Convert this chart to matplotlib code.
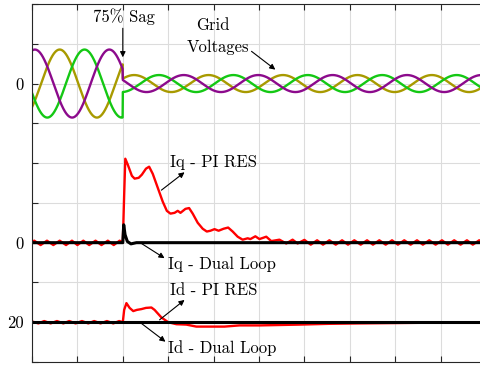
import numpy as np
import matplotlib.pyplot as plt

plt.rcParams['font.family'] = 'cmr10'
plt.rcParams['mathtext.fontset'] = 'cm'
plt.rcParams['axes.unicode_minus'] = False

# time axis in ms, sag at 20 ms
T_END = 100.0
T_SAG = 20.0

# grid voltages (pu) - amplitude before / after the 75% sag
F_GRID = 61.0      # Hz
V_PRE = 1.0
V_POST = 0.25
PHASE0 = -14.0     # deg
phase_shift = [0.0, -120.0, -240.0]
phase_colors = ['#8c0a8c', '#a89a00', '#14c814']

# Iq - PI RES (A)
t_iq_pi = [0, 0.5, 1.9, 3.3, 4.7, 6.1, 7.5, 8.8, 10.0, 11.3, 12.6, 14.0, 15.3, 16.7, 18.0, 19.3, 20.0,
           20.3, 20.55, 21.1, 22.0, 22.6, 23.5, 24.2, 25.1, 25.8, 26.6, 27.7, 28.8, 29.7, 30.5, 31.4,
           32.1, 32.7, 33.8, 34.6, 35.4, 36.5, 37.6, 38.5, 39.3, 40.2, 41.1, 42.2, 43.2, 44.2, 45.3,
           46.4, 47.5, 48.1, 49.2, 50.1, 51.6, 52.7, 54.5, 56.0, 57.4, 58.5,
           60.0, 61.4, 62.8, 64.1, 65.5, 66.9, 68.3, 69.6, 71.0, 72.4, 73.8, 75.1, 76.5, 77.9,
           79.3, 80.6, 82.0, 83.4, 84.8, 86.1, 87.5, 88.9, 90.3, 91.6, 93.0, 94.4, 95.8, 97.1,
           98.5, 99.9]
iq_pi = [0.2, 0.5, -0.6, 0.5, -0.6, 0.5, -0.6, 0.5, -0.6, 0.5, -0.6, 0.5, -0.6, 0.5, -0.6, 0.5, 0.0,
         12.0, 21.1, 19.6, 16.8, 16.1, 16.3, 17.1, 18.6, 19.1, 17.3, 13.8, 10.3, 8.0, 7.3, 7.5,
         8.0, 7.5, 8.5, 8.7, 7.3, 5.0, 3.5, 2.8, 3.0, 3.4, 3.0, 3.5, 3.8, 2.8, 1.5,
         0.75, 1.1, 0.9, 1.6, 0.9, 1.5, 0.4, 0.75, -0.2, 0.75, -0.2,
         0.7, -0.5, 0.6, -0.5, 0.6, -0.5, 0.6, -0.5, 0.6, -0.5, 0.6, -0.5, 0.6, -0.5,
         0.6, -0.5, 0.6, -0.5, 0.6, -0.5, 0.6, -0.5, 0.6, -0.5, 0.6, -0.5, 0.6, -0.5,
         0.6, -0.5]

# Iq - Dual Loop (A)
t_iq_dl = [0, 20.0, 20.2, 20.5, 21.0, 21.8, 23.0, 100]
iq_dl = [0, 0, 4.5, 2.0, 0.3, -0.3, 0, 0]

# Id - PI RES (A)
t_id_pi = [0, 1.4, 2.7, 4.1, 5.5, 6.9, 8.2, 9.6, 11.0, 12.4, 13.7, 15.1, 16.5, 17.9, 19.2, 20.0,
           20.3, 20.8, 21.5, 22.3, 23.1, 24.1, 25.1, 26.3, 27.0, 28.5, 30.0, 31.8, 34.0, 36.2,
           39.1, 42.4, 45.7, 50.1, 54.5, 58.9, 65.5, 72.1, 80.9, 89.7, 100]
id_pi = [20.2, 19.7, 20.3, 19.7, 20.3, 19.7, 20.3, 19.7, 20.3, 19.7, 20.3, 19.7, 20.3, 19.7, 20.3, 20.0,
         23.1, 24.8, 23.6, 22.8, 23.1, 23.3, 23.6, 23.7, 23.1, 21.2, 20.0, 19.5, 19.4, 18.9,
         18.9, 18.9, 19.2, 19.2, 19.3, 19.4, 19.6, 19.7, 19.8, 19.9, 19.9]

# Id - Dual Loop (A)
t_id_dl = [0, 100]
id_dl = [20, 20]

ytick_labels = ['', '20', '', '0', '', '', '', '0', '', '']

# stacking of the three traces on one grid (grid rows)
V_ROW, V_GAIN = 7, 0.855
IQ_ROW = 3
ID_ROW, ID_REF = 1, 20
A_PER_ROW = 10.0

fig = plt.figure(figsize=(4.8, 3.67), dpi=100)
ax = fig.add_axes([32/480, 5/367, 454/480, 358/367])

t = np.linspace(0, T_END, 2000)
amp = np.where(t < T_SAG, V_PRE, V_POST)
for k in [1, 2, 0]:
    v = amp * np.cos(2*np.pi*F_GRID*t/1000 + np.deg2rad(PHASE0 + phase_shift[k]))
    ax.plot(t, V_ROW + V_GAIN*v, color=phase_colors[k], lw=1.7)

ax.plot(t_iq_pi, IQ_ROW + np.array(iq_pi)/A_PER_ROW, color='red', lw=1.7)
ax.plot(t_iq_dl, IQ_ROW + np.array(iq_dl)/A_PER_ROW, color='black', lw=2.2)
ax.plot(t_id_pi, ID_ROW + (np.array(id_pi) - ID_REF)/A_PER_ROW, color='red', lw=1.7)
ax.plot(t_id_dl, ID_ROW + (np.array(id_dl) - ID_REF)/A_PER_ROW, color='black', lw=2.2)

ax.set_xlim(0, T_END)
ax.set_ylim(0, 9)
ax.set_xticks(np.arange(0, 101, 10))
ax.set_xticklabels([])
ax.set_yticks(range(10))
ax.set_yticklabels(ytick_labels, fontsize=12)
ax.tick_params(direction='in', length=4, width=0.8, color='#262626',
               top=True, right=True, pad=6)
ax.grid(True, color='#dcdcdc', lw=0.8)
ax.set_axisbelow(True)
for s in ax.spines.values():
    s.set_color('#262626')
    s.set_linewidth(0.8)

ap = dict(arrowstyle='-|>', color='black', lw=0.8, mutation_scale=8, shrinkA=0, shrinkB=0)
fs = 12
ax.text(20.2, 8.67, '75% Sag', ha='center', va='center', fontsize=fs)
ax.annotate('', xy=(20.0, 7.66), xytext=(20.0, 8.39), arrowprops=ap)
ax.text(39.8, 8.47, 'Grid', ha='center', va='center', fontsize=fs)
ax.text(40.9, 7.91, 'Voltages', ha='center', va='center', fontsize=fs)
ax.annotate('', xy=(53.6, 7.35), xytext=(48.35, 7.81), arrowprops=ap)
ax.text(30.3, 5.03, 'Iq - PI RES', ha='left', va='center', fontsize=fs)
ax.annotate('', xy=(33.6, 4.77), xytext=(28.5, 4.32), arrowprops=ap)
ax.text(29.9, 2.46, 'Iq - Dual Loop', ha='left', va='center', fontsize=fs)
ax.annotate('', xy=(29.2, 2.61), xytext=(24.1, 2.98), arrowprops=ap)
ax.text(30.3, 1.81, 'Id - PI RES', ha='left', va='center', fontsize=fs)
ax.annotate('', xy=(33.6, 1.56), xytext=(28.1, 1.06), arrowprops=ap)
ax.text(29.9, 0.35, 'Id - Dual Loop', ha='left', va='center', fontsize=fs)
ax.annotate('', xy=(29.4, 0.51), xytext=(24.1, 0.97), arrowprops=ap)

fig.savefig('out.png', dpi=100)
